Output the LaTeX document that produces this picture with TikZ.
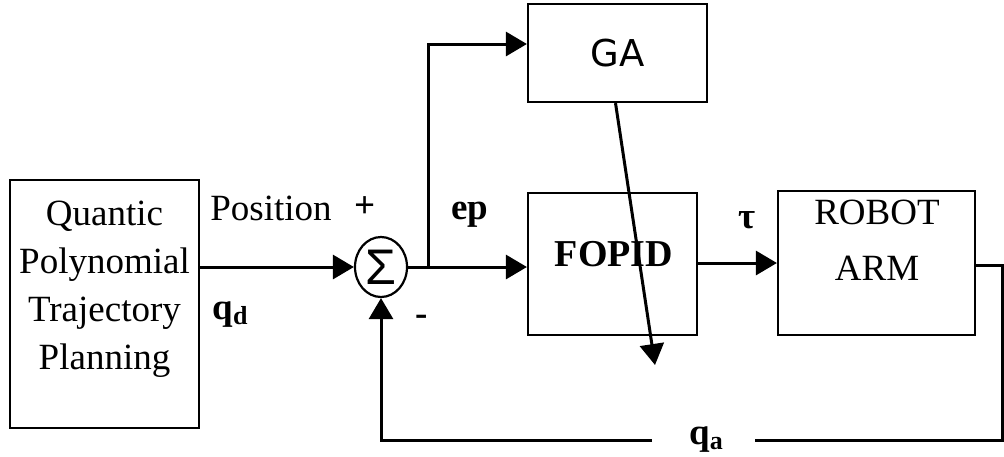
\documentclass[tikz,border=0pt]{standalone}
\usepackage{fontspec}
\setmainfont{Liberation Serif}
\newfontfamily\gasans{DejaVu Sans}
\newfontfamily\sigfont{Liberation Sans}
\usetikzlibrary{arrows.meta,shapes.geometric}
\begin{document}
\begin{tikzpicture}[x=0.5pt,y=-0.5pt,
  blk/.style={draw,line width=1.1pt,inner sep=0pt},
  conn/.style={line width=1.5pt},
  arr/.style={conn,-{Triangle[length=10.5pt,width=12pt]}},
  lbl/.style={font=\fontsize{18.5}{22}\selectfont\bfseries,inner sep=0pt},
  txt/.style={font=\fontsize{18.5}{24}\selectfont,align=center,inner sep=0pt}]
\useasboundingbox[fill=white] (0,0) rectangle (1004,456);
% blocks
\node[blk,minimum width=94.5pt,minimum height=124pt] (Q) at (104.5,304) {};
\node[txt] (Qt) at (104.5,289) {Quantic\\Polynomial\\Trajectory\\Planning};
\node[ellipse,draw,line width=1.1pt,minimum width=26pt,minimum height=30pt,inner sep=0pt] (S) at (381,267) {\sigfont\fontsize{25}{25}\selectfont Σ};
\node[blk,minimum width=89.5pt,minimum height=49pt] (GA) at (617.5,53) {\gasans\fontsize{18.5}{20}\selectfont GA};
\node[blk,minimum width=84.5pt,minimum height=71pt] (F) at (612.5,264) {};
\node[lbl,font=\fontsize{19}{22}\selectfont\bfseries] (Ft) at (614,254) {FOPID};
\node[blk,minimum width=98.5pt,minimum height=72pt] (R) at (876.5,263) {};
\node[txt,font=\fontsize{18.5}{28}\selectfont] (Rt) at (877,240) {ROBOT\\ARM};
% connectors
\coordinate (br) at (428,267);
\coordinate (gaend) at (655,365);
\coordinate (c1) at (1002,440);
\coordinate (c2) at (755,440);
\coordinate (c3) at (652,440);
\draw[arr] (S.west -| Q.east) -- (S.west);
\draw[arr] (S.east) -- (F.west |- S.east);
\draw[arr] (br) |- ([yshift=4.5pt]GA.west);
\draw[arr] ([xshift=-1pt]GA.south) -- (gaend);
\draw[arr] (R.west -| F.east) -- (R.west);
\draw[conn] ([yshift=-1pt]R.east) -| (c1) -- (c2);
\draw[arr] (c3) -| (S.south);
% labels
\node[txt] (pos) at (271,208) {Position};
\node[lbl] (plus) at (365,207) {+};
\node[lbl] (qd) at (230,315) {q{\fontsize{13}{14}\selectfont\raisebox{-2.5pt}{d}}};
\node[lbl] (minus) at (422,320) {-};
\node[lbl] (ep) at (470,215) {ep};
\node[lbl] (tau) at (747,220) {τ};
\node[lbl] (qa) at (706,440) {q{\fontsize{13}{14}\selectfont\raisebox{-2.5pt}{a}}};
\end{tikzpicture}
\end{document}
